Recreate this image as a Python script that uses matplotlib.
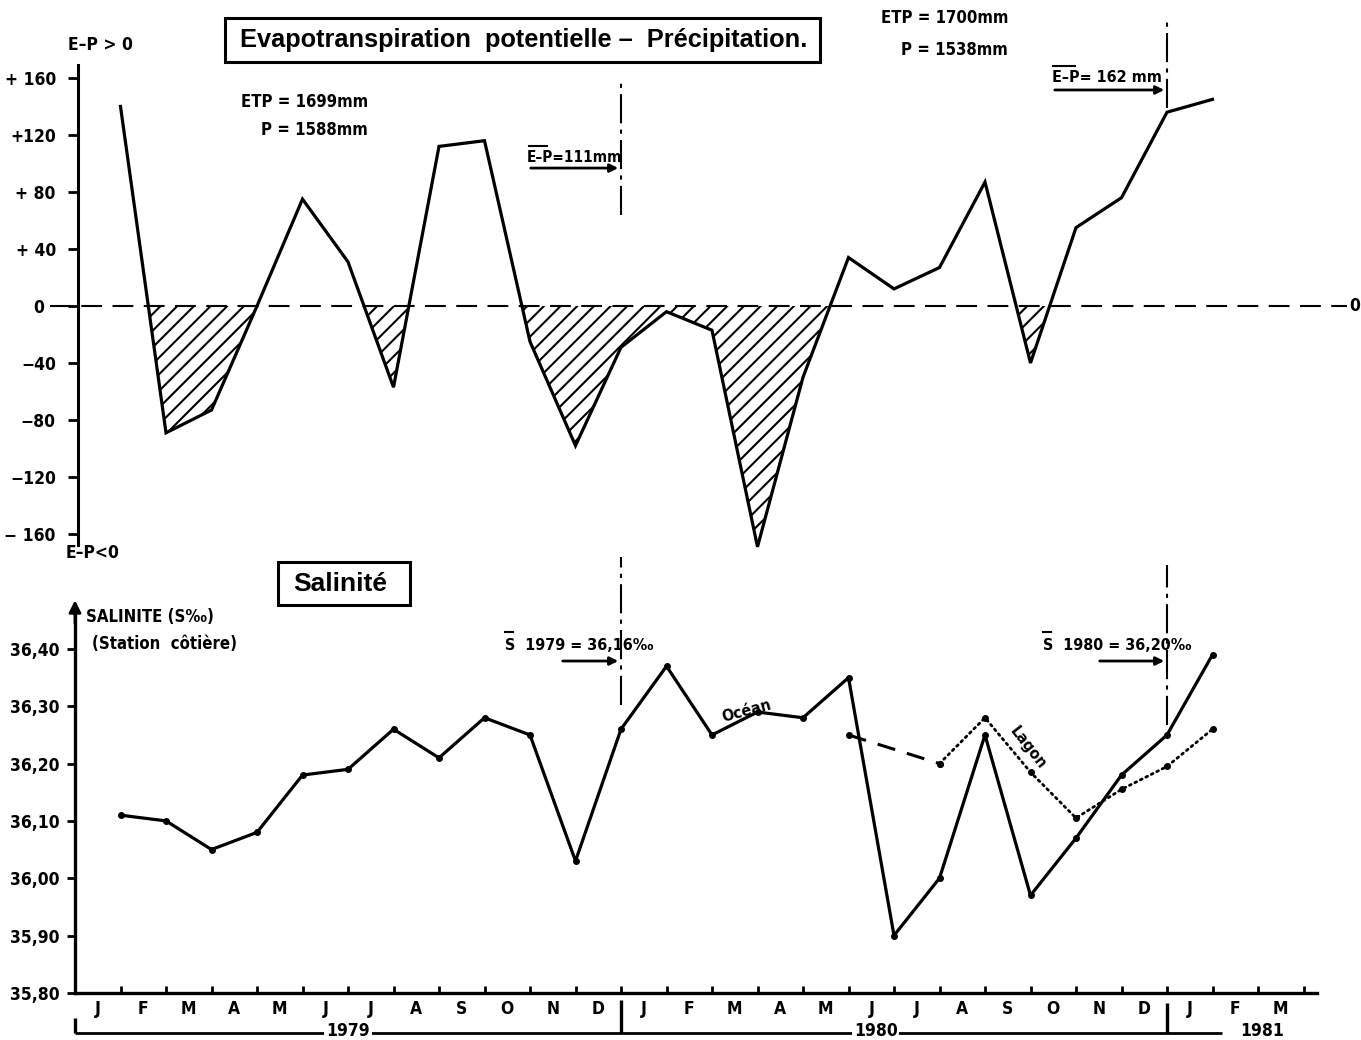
import numpy as np
import matplotlib
matplotlib.use('Agg')
import matplotlib.pyplot as plt
from matplotlib.patches import Rectangle

W, H = 1361, 1040

# month boundaries, 0 = start of January 1979
ep_months = np.arange(1, 26)
ep_values = np.array([140, -89, -73, 0, 75, 31, -57, 112, 116, -25, -98, -29, -4, -17,
                      -169, -50, 34, 12, 27, 87, -40, 55, 76, 136, 145])

sal_months = np.arange(1, 26)
sal_ocean = np.array([36.11, 36.10, 36.05, 36.08, 36.18, 36.19, 36.26, 36.21, 36.28, 36.25,
                      36.03, 36.26, 36.37, 36.25, 36.29, 36.28, 36.35, 35.90, 36.00, 36.25,
                      35.97, 36.07, 36.18, 36.25, 36.39])
lagoon_months = np.array([17, 19, 20, 21, 22, 23, 24, 25])
sal_lagoon = np.array([36.25, 36.20, 36.28, 36.185, 36.105, 36.155, 36.195, 36.26])

month_labels = list('JFMAMJJASOND') * 2 + ['J', 'F', 'M']
year_labels = ['1979', '1980', '1981']
year_starts = [0, 12, 24]

ep_ticks = [160, 120, 80, 40, 0, -40, -80, -120, -160]
ep_tick_labels = ['+ 160', '+120', '+ 80', '+ 40', '0  ', '\u221240', '\u221280', '\u2212120', '\u2212 160']
sal_ticks = [36.40, 36.30, 36.20, 36.10, 36.00, 35.90, 35.80]
sal_tick_labels = ['36,40', '36,30', '36,20', '36,10', '36,00', '35,90', '35,80']

TITLE_FONT = ['Liberation Sans', 'DejaVu Sans']
plt.rcParams['font.family'] = ['DejaVu Sans']
plt.rcParams['font.stretch'] = 'condensed'
plt.rcParams['font.weight'] = 'bold'
plt.rcParams['hatch.linewidth'] = 1.5

fig = plt.figure(figsize=(W / 100, H / 100), dpi=100)

# x: 45.5 px per month, axis origin at x=75 px
XLIM = (-75 / 45.5, (W - 75) / 45.5)


def ftext(x, y, s, **kw):
    # place text using pixel coordinates (origin top left)
    kw.setdefault('fontsize', 12)
    kw.setdefault('fontweight', 'bold')
    return fig.text(x / W, 1 - y / H, s, **kw)


def fbox(x0, y0, x1, y1):
    fig.add_artist(Rectangle((x0 / W, 1 - y1 / H), (x1 - x0) / W, (y1 - y0) / H,
                             transform=fig.transFigure, fill=False, ec='black', lw=2.2))


def fbar(x0, x1, y):
    # short overbar drawn above a label
    fig.add_artist(plt.Line2D([x0 / W, x1 / W], [1 - y / H] * 2, color='black', lw=1.5))


# ---------------- E - P panel ----------------
ax1 = fig.add_axes([0, 1 - 560 / H, 1, 560 / H])
ax1.set_xlim(*XLIM)
ax1.set_ylim((306 - 560) / 1.425, 306 / 1.425)
ax1.patch.set_visible(False)
for s in ['top', 'right', 'bottom']:
    ax1.spines[s].set_visible(False)
ax1.spines['left'].set_position(('data', 0.066))
ax1.spines['left'].set_bounds(-168, 169)
ax1.spines['left'].set_linewidth(2.2)
ax1.set_xticks([])
ax1.set_yticks(ep_ticks)
ax1.set_yticklabels(ep_tick_labels)
ax1.tick_params(axis='y', direction='out', length=7, width=2, pad=9, labelsize=12.5)

ax1.hlines(0, -0.55, 27.95, colors='black', lw=1.5, linestyles=(0, (10, 5)))
ax1.text(28.0, 0, '0', fontsize=12.5, va='center', ha='left', clip_on=False)

ax1.fill_between(ep_months, ep_values, 0, where=ep_values < 0, interpolate=True,
                 facecolor='white', edgecolor='black', hatch='//', linewidth=0)
ax1.plot(ep_months, ep_values, color='black', lw=2.3, solid_joinstyle='miter')

ax1.vlines(12, 64, 157, colors='black', lw=1.5, linestyles=(0, (14, 3, 2, 3)))
ax1.vlines(24, 139, 202, colors='black', lw=1.5, linestyles=(0, (14, 3, 2, 3)), clip_on=False)
ax1.annotate('', xy=(12, 96.8), xytext=((528 - 75) / 45.5, 96.8),
             arrowprops=dict(arrowstyle='-|>', lw=2, color='black', mutation_scale=12))
ax1.annotate('', xy=(24, 151.6), xytext=((1052 - 75) / 45.5, 151.6),
             arrowprops=dict(arrowstyle='-|>', lw=2, color='black', mutation_scale=12))

ftext(68, 45, 'E\u2013P > 0', ha='left', va='center', fontsize=12.5)
ftext(66, 553, 'E\u2013P<0', ha='left', va='center', fontsize=12.5)
fbox(225, 18, 820, 62)
ftext(524, 40, 'Evapotranspiration  potentielle \u2013  Pr\u00e9cipitation.', ha='center', va='center',
      fontsize=18.3, family=TITLE_FONT, stretch='normal')
ftext(368, 102, 'ETP = 1699mm', ha='right', va='center')
ftext(368, 130, 'P = 1588mm', ha='right', va='center')
ftext(527, 158, 'E\u2013P=111mm', ha='left', va='center', fontsize=11)
ftext(1008, 18, 'ETP = 1700mm', ha='right', va='center')
ftext(1008, 50, 'P = 1538mm', ha='right', va='center')
ftext(1052, 78, 'E\u2013P= 162 mm', ha='left', va='center', fontsize=11.5)
fbar(529, 547, 146)
fbar(1053, 1075, 66)

# ---------------- Salinity panel ----------------
ax2 = fig.add_axes([0, 0, 1, 480 / H])
ax2.set_xlim(*XLIM)
ax2.set_ylim(36.40 - 391 / 573, 36.40 + 89 / 573)
ax2.patch.set_visible(False)
for s in ['top', 'right']:
    ax2.spines[s].set_visible(False)
ax2.spines['left'].set_position(('data', 0))
ax2.spines['left'].set_bounds(35.80, 36.46)
ax2.spines['bottom'].set_position(('data', 35.80))
ax2.spines['bottom'].set_bounds(0, 27.3)
for s in ['left', 'bottom']:
    ax2.spines[s].set_linewidth(2.4)
ax2.annotate('', xy=(0, 36.49), xytext=(0, 36.44),
             arrowprops=dict(arrowstyle='-|>', lw=2, color='black', mutation_scale=18))

ax2.set_yticks(sal_ticks)
ax2.set_yticklabels(sal_tick_labels)
ax2.tick_params(axis='y', direction='out', length=6, width=2, pad=5, labelsize=12.5)
ax2.set_xticks(np.arange(0, 28))
ax2.set_xticklabels([])
ax2.set_xticks(np.arange(len(month_labels)) + 0.5, minor=True)
ax2.set_xticklabels(month_labels, minor=True)
ax2.tick_params(axis='x', which='major', direction='in', length=5, width=2)
ax2.tick_params(axis='x', which='minor', length=0, pad=5, labelsize=12.5)

ax2.plot(sal_months, sal_ocean, color='black', lw=2.3, marker='o', markersize=4)
ax2.plot(lagoon_months[:2], sal_lagoon[:2], color='black', lw=2.2, linestyle=(0, (6, 4)),
         marker='o', markersize=4)
ax2.plot(lagoon_months[1:], sal_lagoon[1:], color='black', lw=2.0, linestyle=(0, (0.7, 1.5)),
         dash_capstyle='round', marker='o', markersize=4)

ax2.vlines(12, 36.302, 36.56, colors='black', lw=1.5, linestyles=(0, (14, 3, 2, 3)), clip_on=False)
ax2.vlines(24, 36.267, 36.547, colors='black', lw=1.5, linestyles=(0, (14, 3, 2, 3)))
ax2.annotate('', xy=(12, 36.379), xytext=((560 - 75) / 45.5, 36.379),
             arrowprops=dict(arrowstyle='-|>', lw=2, color='black', mutation_scale=12))
ax2.annotate('', xy=(24, 36.379), xytext=((1097 - 75) / 45.5, 36.379),
             arrowprops=dict(arrowstyle='-|>', lw=2, color='black', mutation_scale=12))

# year brackets under the month axis
y_bracket = 36.40 - (1033 - 649) / 573
ax2.hlines(y_bracket, 0, 25.2, colors='black', lw=2, clip_on=False)
for k, top in zip(year_starts, [35.756, 35.787, 35.782]):
    ax2.vlines(k, y_bracket, top, colors='black', lw=2.4, clip_on=False)
for lab, xc in zip(year_labels, [6.0, 17.6, 26.1]):
    ax2.text(xc, y_bracket + 0.004, lab, ha='center', va='center', fontsize=12.5, fontweight='bold',
             bbox=dict(boxstyle='square,pad=0.1', fc='white', ec='none'))

fbox(278, 562, 410, 605)
ftext(340, 584, 'Salinit\u00e9', ha='center', va='center', fontsize=19, family=TITLE_FONT,
      stretch='normal')
ftext(86, 617, 'SALINITE (S\u2030)', ha='left', va='center')
ftext(92, 644, '(Station  c\u00f4ti\u00e8re)', ha='left', va='center')
ftext(505, 645, 'S  1979 = 36,16\u2030', ha='left', va='center', fontsize=11.5)
ftext(1043, 645, 'S  1980 = 36,20\u2030', ha='left', va='center', fontsize=11.5)
fbar(505, 513, 632)
fbar(1043, 1051, 632)
ftext(747, 711, 'Oc\u00e9an', ha='center', va='center', rotation=15, fontsize=11.5)
ftext(1028, 748, 'Lagon', ha='center', va='center', rotation=-52, fontsize=11.5)

fig.savefig('out.png', dpi=100, facecolor='white')
